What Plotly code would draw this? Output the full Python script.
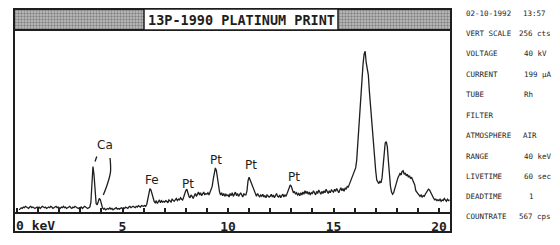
import numpy as np
import plotly.graph_objects as go

# ---------------- data ----------------
# counts sampled every 0.05 keV starting at 0.10 keV
counts_rows = [
    [3,5,6,5,7,6,8,7,6,5,7,8,6,7,6,5,6,7],
    [6,7,5,6,8,7,6,7,5,6,7,6,8,7,5,6,7,8,6,7],
    [6,5,7,6,8,6,7,5,6,7,8,6,5,7,6,8,7,6,5,6],
    [6,7,5,6,8,7,6,5,6,7,13,38,64,52,25,12,10,14,19,17],
    [9,6,4,5,3,4,5,4,6,4,5,3,4,5,6,4,5,4,5,6],
    [5,6,5,7,6,5,7,8,6,7,8,7,6,8,7,9,8,7,9,8],
    [8,9,8,11,18,27,33,31,24,18,15,13,16,12,15,17,13,16,14,15],
    [14,16,15,13,17,15,14,18,16,15,17,19,16,18,17,20,18,17,21,26],
    [30,32,25,22,20,24,22,19,23,26,22,25,28,24,27,23,25,28,24,26],
    [25,27,24,28,30,36,46,57,62,58,45,34,28,24,27,23,26,22,25,23],
    [24,21,26,23,27,22,25,28,23,26,22,25,27,24,21,26,24,24,30,44],
    [49,45,41,38,33,28,25,22,26,23,21,24,22,25,21,23,20,24,22,21],
    [22,25,21,24,20,23,26,22,21,24,20,23,25,21,24,22,26,29,34,38],
    [36,31,27,29,25,27,24,26,23,27,24,28,25,30,26,29,25,28,24,27],
    [26,30,27,24,29,26,31,27,25,29,26,30,27,32,28,26,30,27,31,29],
    [28,32,29,33,30,27,31,34,30,33,29,34,32,36,35,39,42,46,50,54],
    [56,62,73,95,118,150,175,192,208,222,226,210,200,193,170,150,135,115,98,78],
    [58,45,41,40,43,41,48,68,88,97,99,92,72,52,36,28,25,27,33,40],
    [44,48,51,54,52,57,58,53,55,51,53,49,51,47,49,45,40,38,30,27],
    [26,24,22,24,21,23,22,25,27,30,32,31,28,24,20,19,17,18,16,17],
    [16,18,15,17,16,19,17,15,18,16,17],
]
counts = [v for row in counts_rows for v in row]
energy_start = 0.10
energy_step = 0.05
energies = np.round(energy_start + energy_step * np.arange(len(counts)), 2)

tick_values = list(range(0, 21))
tick_labels = ["5", "10", "15", "20"]

title_text = "13P-1990 PLATINUM PRINT"

element_names = ["Ca", "Fe", "Pt", "Pt", "Pt", "Pt"]
element_keV = [4.17, 6.38, 8.09, 9.43, 11.07, 13.13]
element_cts = [94, 45, 40, 73, 66, 49]

ca_leader1_keV = [3.78, 3.70]
ca_leader1_cts = [78, 71]
ca_leader2_keV = [4.41, 4.43, 4.27, 4.09]
ca_leader2_cts = [76, 56, 38, 24]

panel_header = ["02-10-1992", "13:57"]
panel_labels = ["VERT SCALE", "VOLTAGE", "CURRENT", "TUBE", "FILTER",
                "ATMOSPHERE", "RANGE", "LIVETIME", "DEADTIME", "COUNTRATE"]
panel_values = ["256 cts", "40 kV", "199 µA", "Rh", "", "AIR",
                "40 keV", "60 sec", "1", "567 cps"]

# ---------------- layout geometry (pixels) ----------------
W, H = 560, 245
L, R, T, B = 14, 109, 9, 33
plot_w = W - L - R          # 437
plot_h = H - T - B          # 203
data_h = 182                # data area height below title bar
ydom_top = data_h / plot_h
px0 = 17.0                  # pixel of 0 keV
px_per_keV = 21.1
xr = [(L - px0) / px_per_keV, (W - R - px0) / px_per_keV]

def py_to_paper(py):
    return (T + plot_h - py) / plot_h

def px_to_paper(px):
    return (px - L) / plot_w

ink = "#1e1e1e"

fig = go.Figure()

# spectrum
fig.add_trace(go.Scatter(x=energies, y=counts, mode="lines",
                         line=dict(color=ink, width=1.3),
                         hoverinfo="skip", showlegend=False))

# Ca leaders
fig.add_trace(go.Scatter(x=ca_leader1_keV, y=ca_leader1_cts, mode="lines",
                         line=dict(color=ink, width=1.3), showlegend=False, hoverinfo="skip"))
fig.add_trace(go.Scatter(x=ca_leader2_keV, y=ca_leader2_cts, mode="lines",
                         line=dict(color=ink, width=1.3, shape="spline"),
                         showlegend=False, hoverinfo="skip"))

# stippled title bar parts
box_l = px_to_paper(144)
box_r = px_to_paper(338)
for xa, xb in [(0, box_l), (box_r, 1)]:
    fig.add_trace(go.Scatter(x=[xa, xb, xb, xa, xa], y=[0, 0, 1, 1, 0],
                             xaxis="x2", yaxis="y2", mode="lines", fill="toself",
                             line=dict(width=0), fillcolor="rgba(0,0,0,0)",
                             fillpattern=dict(shape=".", fgcolor="#444444",
                                              bgcolor="#c4c4c4", size=3, solidity=0.5),
                             showlegend=False, hoverinfo="skip"))

ticktext = [str(v) if (v % 5 == 0 and v > 0) else "" for v in tick_values]

fig.update_layout(
    width=W, height=H,
    margin=dict(l=L, r=R, t=T, b=B, pad=0),
    paper_bgcolor="white", plot_bgcolor="white",
    showlegend=False,
    xaxis=dict(domain=[0, 1], range=xr, anchor="y",
               showline=True, linecolor=ink, linewidth=2,
               ticks="inside", ticklen=4, tickwidth=1.5, tickcolor=ink,
               tickvals=tick_values, ticktext=ticktext,
               tickfont=dict(family="DejaVu Sans Mono", size=13, color=ink, weight="bold"),
               ticklabelstandoff=1,
               showgrid=False, zeroline=False, fixedrange=True),
    yaxis=dict(domain=[0, ydom_top], range=[0, 256], visible=False,
               showgrid=False, zeroline=False, fixedrange=True),
    xaxis2=dict(domain=[0, 1], range=[0, 1], anchor="y2", visible=False),
    yaxis2=dict(domain=[ydom_top, 1], range=[0, 1], anchor="x2", visible=False),
)

shapes = []
frame_bottom = py_to_paper(232)
# outer frame
shapes.append(dict(type="rect", xref="paper", yref="paper",
                   x0=0, x1=1, y0=frame_bottom, y1=1,
                   line=dict(color=ink, width=2)))
# line under title bar
shapes.append(dict(type="line", xref="paper", yref="paper",
                   x0=0, x1=1, y0=ydom_top, y1=ydom_top,
                   line=dict(color=ink, width=2)))
# white title box
shapes.append(dict(type="rect", xref="paper", yref="paper",
                   x0=box_l, x1=box_r, y0=ydom_top, y1=1,
                   fillcolor="white", line=dict(color=ink, width=1.5)))
fig.update_layout(shapes=shapes)

ann = []
ann.append(dict(text=title_text, xref="paper", yref="paper",
                x=(box_l + box_r) / 2, y=py_to_paper(19.5), showarrow=False,
                font=dict(family="DejaVu Sans Mono", size=13.5, color=ink, weight="bold"),
                xanchor="center", yanchor="middle"))
# "0 keV" label
ann.append(dict(text="0 keV", xref="x", yref="paper", x=0, y=py_to_paper(226),
                showarrow=False, xanchor="left", yanchor="middle", xshift=-3.5,
                font=dict(family="DejaVu Sans Mono", size=13, color=ink, weight="bold")))
# element labels
for name, ek, ct in zip(element_names, element_keV, element_cts):
    ann.append(dict(text=name, x=ek, y=ct, xref="x", yref="y", showarrow=False,
                    font=dict(family="DejaVu Sans", size=12, color=ink),
                    xanchor="center", yanchor="middle"))

# right panel
panel_font = dict(family="DejaVu Sans Mono", size=7.5, color=ink)
row_y = [14, 34, 54, 74, 94, 115, 135, 156, 176, 196, 216]
label_x = 464
header_x = [464, 521]
value_x = [517, 522, 522, 522, 522, 521, 522, 522, 527, 517]
for txt, hx in zip(panel_header, header_x):
    ann.append(dict(text=txt, xref="paper", yref="paper", x=px_to_paper(hx),
                    y=py_to_paper(row_y[0]), showarrow=False, xanchor="left",
                    yanchor="middle", font=panel_font))
for i, (lab, val) in enumerate(zip(panel_labels, panel_values)):
    yy = py_to_paper(row_y[i + 1])
    ann.append(dict(text=lab, xref="paper", yref="paper", x=px_to_paper(label_x),
                    y=yy, showarrow=False, xanchor="left", yanchor="middle", font=panel_font))
    if val:
        ann.append(dict(text=val, xref="paper", yref="paper", x=px_to_paper(value_x[i]),
                        y=yy, showarrow=False, xanchor="left", yanchor="middle", font=panel_font))
fig.update_layout(annotations=ann)

fig.write_html("out.html")
